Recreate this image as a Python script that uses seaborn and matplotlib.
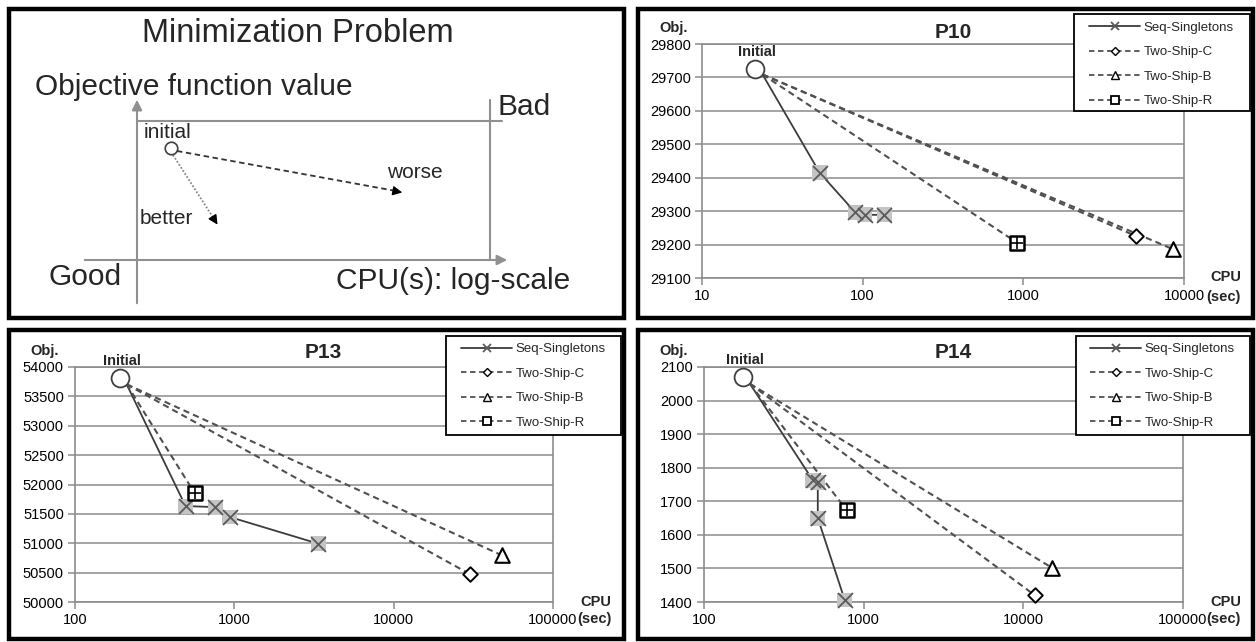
import numpy as np
import pandas as pd
import matplotlib
matplotlib.use("Agg")
import matplotlib.pyplot as plt
import seaborn as sns
from matplotlib.lines import Line2D
from matplotlib.patches import Rectangle
from matplotlib.ticker import FixedLocator, FixedFormatter, NullLocator

# ------------------------------------------------------------------ data
series_names = ["Seq-Singletons", "Two-Ship-C", "Two-Ship-B", "Two-Ship-R"]

# P10
p10_initial_x = [21.5]
p10_initial_y = [29725]
p10_seq_x = [23.8, 54, 90, 103, 136]
p10_seq_y = [29709, 29415, 29296, 29289, 29289]
p10_c_x = [23.8, 5000]
p10_c_y = [29709, 29226]
p10_b_x = [23.8, 8550]
p10_b_y = [29709, 29186]
p10_r_x = [23.8, 912]
p10_r_y = [29709, 29206]
p10_xticks = [10, 100, 1000, 10000]
p10_xlabels = ["10", "100", "1000", "10000"]
p10_yticks = [29100, 29200, 29300, 29400, 29500, 29600, 29700, 29800]

# P13
p13_initial_x = [193]
p13_initial_y = [53813]
p13_seq_x = [211, 494, 757, 938, 3373]
p13_seq_y = [53705, 51633, 51615, 51446, 50992]
p13_c_x = [211, 30300]
p13_c_y = [53705, 50470]
p13_b_x = [211, 47900]
p13_b_y = [53705, 50793]
p13_r_x = [211, 563]
p13_r_y = [53705, 51855]
p13_xticks = [100, 1000, 10000, 100000]
p13_xlabels = ["100", "1000", "10000", "100000"]
p13_yticks = [50000, 50500, 51000, 51500, 52000, 52500, 53000, 53500, 54000]

# P14
p14_initial_x = [176]
p14_initial_y = [2070]
p14_seq_x = [194, 480, 516, 516, 761]
p14_seq_y = [2050, 1763, 1757, 1650, 1406]
p14_c_x = [194, 11800]
p14_c_y = [2050, 1420]
p14_b_x = [194, 15100]
p14_b_y = [2050, 1502]
p14_r_x = [194, 783]
p14_r_y = [2050, 1673]
p14_xticks = [100, 1000, 10000, 100000]
p14_xlabels = ["100", "1000", "10000", "100000"]
p14_yticks = [1400, 1500, 1600, 1700, 1800, 1900, 2000, 2100]

# ------------------------------------------------------------------ style
sns.set_theme(style="white")
plt.rcParams["font.family"] = ["Liberation Sans", "DejaVu Sans"]

W, H = 1256, 642
fig = plt.figure(figsize=(W / 100, H / 100), dpi=100)

GRID = "#8c8c8c"
LINE = "#3c3c3c"
DASH = (0, (3, 2))


def px_rect(l, t, r, b):
    return [l / W, 1 - b / H, (r - l) / W, (b - t) / H]


# background / overlay axes in pixel coordinates
bg = fig.add_axes([0, 0, 1, 1], zorder=0)
bg.set_xlim(0, W)
bg.set_ylim(H, 0)
bg.axis("off")

for (l, t, r, b) in [(9, 9, 624, 318), (638, 9, 1253, 318),
                     (9, 330, 624, 639), (638, 330, 1253, 639)]:
    bg.add_patch(Rectangle((l, t), r - l, b - t, fill=False,
                           edgecolor="black", linewidth=3.2))

# ------------------------------------------------------------- diagram
bg.text(298, 34, "Minimization Problem", ha="center", va="center", fontsize=23.5)
bg.text(35, 87, "Objective function value", ha="left", va="center", fontsize=21.5)
arrow_gray = dict(arrowstyle="-|>", color="#909090", lw=1.5, mutation_scale=15)
bg.annotate("", xy=(137, 97), xytext=(137, 306), arrowprops=arrow_gray)
bg.annotate("", xy=(510, 260), xytext=(82, 260), arrowprops=arrow_gray)
bg.plot([137, 502], [121, 121], color="#909090", lw=1.5)
bg.plot([490, 490], [100, 260], color="#909090", lw=1.5)
bg.text(497, 107, "Bad", ha="left", va="center", fontsize=21.5)
bg.text(48, 277, "Good", ha="left", va="center", fontsize=21.5)
bg.text(336, 281, "CPU(s): log-scale", ha="left", va="center", fontsize=21.5)
bg.text(144, 133, "initial", ha="left", va="center", fontsize=15)
bg.text(387, 173, "worse", ha="left", va="center", fontsize=15)
bg.text(140, 218, "better", ha="left", va="center", fontsize=15)
bg.plot([177, 396], [151, 191], color="#333333", lw=1.3, ls=(0, (3, 2)))
bg.annotate("", xy=(405, 193), xytext=(393, 190.7),
            arrowprops=dict(arrowstyle="-|>", color="black", lw=1, mutation_scale=14))
bg.plot([173, 214], [155, 219], color="#888888", lw=1.3, ls=(0, (1, 1)))
bg.annotate("", xy=(219, 227), xytext=(213, 217.5),
            arrowprops=dict(arrowstyle="-|>", color="black", lw=1, mutation_scale=14))
bg.plot([170.5], [148], marker="o", ms=9, mfc="white", mec="#404040", mew=1.2)


# ------------------------------------------------------------- panels
def draw_panel(rect, title, init_x, init_y, seq, c, b, r,
               xticks, xlabels, yticks, legend_frame, legend_anchor,
               title_xy, obj_xy, cpu_xy, sec_xy):
    ax = fig.add_axes(px_rect(*rect), zorder=2)
    ax.set_xscale("log")

    # lines
    sns.lineplot(x=seq[0], y=seq[1], ax=ax, estimator=None, sort=False,
                 color=LINE, linewidth=1.3, zorder=3)
    for sx, sy in (c, b, r):
        sns.lineplot(x=sx, y=sy, ax=ax, estimator=None, sort=False,
                     color="#505050", linewidth=1.5, linestyle=DASH, zorder=3)

    # markers (first point is the shared start, no marker)
    sns.scatterplot(x=seq[0][1:], y=seq[1][1:], ax=ax, marker="s", s=115,
                    color="#c4c4c4", edgecolor="none", zorder=4, clip_on=False)
    sns.scatterplot(x=seq[0][1:], y=seq[1][1:], ax=ax, marker="x", s=115,
                    color="#5a5a5a", linewidth=1.3, zorder=5, clip_on=False)
    sns.scatterplot(x=c[0][1:], y=c[1][1:], ax=ax, marker="D", s=55,
                    facecolor="white", edgecolor="black", linewidth=1.4,
                    zorder=5, clip_on=False)
    sns.scatterplot(x=b[0][1:], y=b[1][1:], ax=ax, marker="^", s=110,
                    facecolor="white", edgecolor="black", linewidth=1.5,
                    zorder=5, clip_on=False)
    sns.scatterplot(x=r[0][1:], y=r[1][1:], ax=ax, marker="s", s=110,
                    facecolor="white", edgecolor="black", linewidth=1.8,
                    zorder=5, clip_on=False)
    sns.scatterplot(x=r[0][1:], y=r[1][1:], ax=ax, marker="+", s=80,
                    color="black", linewidth=1.2, zorder=6, clip_on=False)

    # initial point
    sns.scatterplot(x=init_x, y=init_y, ax=ax, marker="o", s=165,
                    facecolor="white", edgecolor="#404040", linewidth=1.3,
                    zorder=6, clip_on=False)
    ax.annotate("Initial", xy=(init_x[0], init_y[0]), xytext=(1, 12),
                textcoords="offset points", ha="center", va="center",
                fontsize=10.5, fontweight="bold", zorder=7,
                annotation_clip=False)

    ax.set_xlim(xticks[0], xticks[-1])
    ax.set_ylim(yticks[0], yticks[-1])
    ax.xaxis.set_major_locator(FixedLocator(xticks))
    ax.xaxis.set_major_formatter(FixedFormatter(xlabels))
    ax.xaxis.set_minor_locator(NullLocator())
    ax.yaxis.set_major_locator(FixedLocator(yticks))
    ax.yaxis.set_major_formatter(FixedFormatter([str(v) for v in yticks]))
    ax.set_xlabel("")
    ax.set_ylabel("")
    ax.grid(axis="y", color=GRID, linewidth=1.1)
    ax.grid(axis="x", visible=False)
    ax.set_axisbelow(True)
    for sp in ax.spines.values():
        sp.set_color(GRID)
        sp.set_linewidth(1.2)
    ax.tick_params(axis="both", which="major", length=5, width=1.1,
                   color=GRID, labelsize=10.5, labelcolor="black", pad=3,
                   left=True, bottom=True)

    # legend: frame drawn as a figure-level rectangle, entries on top
    l0, t0, r0, b0 = legend_frame
    fig.add_artist(Rectangle((l0 / W, 1 - b0 / H), (r0 - l0) / W, (b0 - t0) / H,
                             transform=fig.transFigure, facecolor="white",
                             edgecolor="black", linewidth=1.3, zorder=9))
    handles = [
        Line2D([], [], color=LINE, lw=1.3, marker="x", ms=6, mec="#5a5a5a", mew=1.3),
        Line2D([], [], color="#505050", lw=1.3, ls=DASH, marker="D", ms=4.5,
               mfc="white", mec="black", mew=1.0),
        Line2D([], [], color="#505050", lw=1.3, ls=DASH, marker="^", ms=5.5,
               mfc="white", mec="black", mew=1.0),
        Line2D([], [], color="#505050", lw=1.3, ls=DASH, marker="s", ms=5.5,
               mfc="white", mec="black", mew=1.3),
    ]
    leg = fig.legend(handles=handles, labels=series_names, loc="upper left",
                     bbox_to_anchor=(legend_anchor[0] / W, 1 - legend_anchor[1] / H),
                     bbox_transform=fig.transFigure, frameon=False,
                     fontsize=9.5, handlelength=3.9, handletextpad=0.25,
                     labelspacing=0.93, borderpad=0, borderaxespad=0)
    leg.set_zorder(10)

    bg.text(title_xy[0], title_xy[1], title, ha="center", va="center",
            fontsize=15, fontweight="bold")
    bg.text(obj_xy[0], obj_xy[1], "Obj.", ha="center", va="center",
            fontsize=10.5, fontweight="bold")
    bg.text(cpu_xy[0], cpu_xy[1], "CPU", ha="center", va="center",
            fontsize=10.5, fontweight="bold")
    bg.text(sec_xy[0], sec_xy[1], "(sec)", ha="left", va="center",
            fontsize=10.5, fontweight="bold")
    return ax


draw_panel((702, 44, 1184, 278), "P10", p10_initial_x, p10_initial_y,
           (p10_seq_x, p10_seq_y), (p10_c_x, p10_c_y), (p10_b_x, p10_b_y),
           (p10_r_x, p10_r_y), p10_xticks, p10_xlabels, p10_yticks,
           (1074, 14, 1250, 111), (1089, 21.5), (953, 32), (674, 28),
           (1226, 277), (1206, 297))

draw_panel((75, 367, 553, 602), "P13", p13_initial_x, p13_initial_y,
           (p13_seq_x, p13_seq_y), (p13_c_x, p13_c_y), (p13_b_x, p13_b_y),
           (p13_r_x, p13_r_y), p13_xticks, p13_xlabels, p13_yticks,
           (446, 336, 621, 435), (461, 343), (323, 353), (45, 351),
           (596, 602), (577, 619))

draw_panel((704, 367, 1183, 602), "P14", p14_initial_x, p14_initial_y,
           (p14_seq_x, p14_seq_y), (p14_c_x, p14_c_y), (p14_b_x, p14_b_y),
           (p14_r_x, p14_r_y), p14_xticks, p14_xlabels, p14_yticks,
           (1076, 336, 1250, 435), (1090, 343), (953, 353), (674, 351),
           (1226, 602), (1206, 619))

fig.savefig("out.png", dpi=100)
